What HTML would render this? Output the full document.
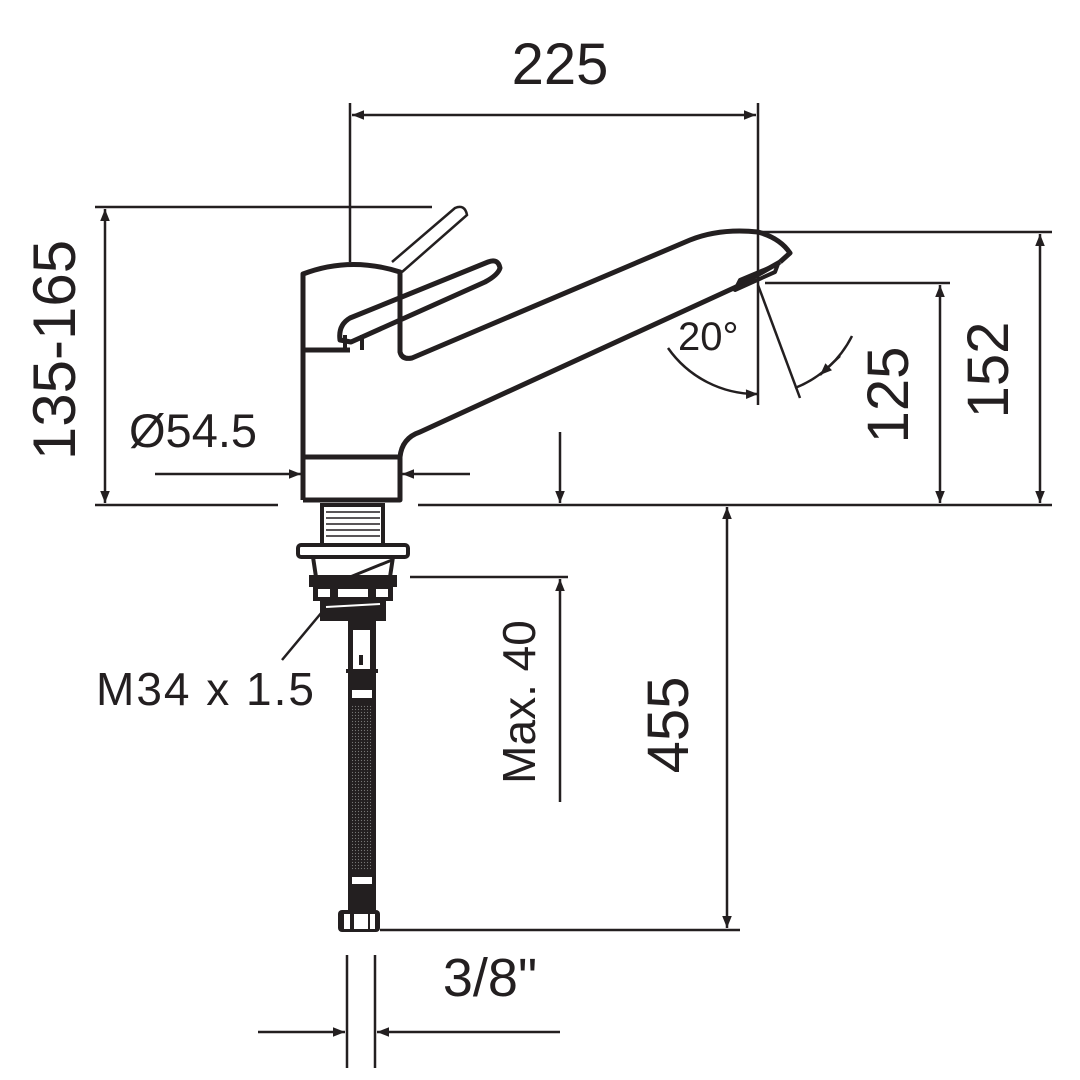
<!DOCTYPE html>
<html><head><meta charset="utf-8"><style>
html,body{margin:0;padding:0;background:#fff}
svg{display:block}
text{font-family:"Liberation Sans",sans-serif;fill:#231f20}
</style></head><body>
<svg width="1080" height="1080" viewBox="0 0 1080 1080" xmlns="http://www.w3.org/2000/svg">
<defs>
<marker id="a" viewBox="0 0 10 10" refX="10" refY="5" markerWidth="34" markerHeight="12" markerUnits="userSpaceOnUse" orient="auto-start-reverse"><path d="M0,1 L10,5 L0,9 Z" fill="#231f20"/></marker>
<pattern id="knit" width="3" height="3" patternUnits="userSpaceOnUse"><rect width="3" height="3" fill="#231f20"/><circle cx="1.5" cy="1.5" r="0.6" fill="#777"/></pattern>
</defs>
<g stroke="#231f20" fill="none" stroke-width="2.5">
<line x1="350" y1="103" x2="350" y2="262"/>
<line x1="758" y1="103" x2="758" y2="405"/>
<line x1="352" y1="115" x2="756" y2="115" marker-start="url(#a)" marker-end="url(#a)"/>
<line x1="95" y1="207" x2="432" y2="207"/>
<line x1="105" y1="209" x2="105" y2="503" marker-start="url(#a)" marker-end="url(#a)"/>
<line x1="95" y1="505" x2="278" y2="505"/>
<line x1="418" y1="505" x2="1052" y2="505"/>
<line x1="155" y1="474" x2="301" y2="474" marker-end="url(#a)"/>
<line x1="470" y1="474" x2="402" y2="474" marker-end="url(#a)"/>
<line x1="760" y1="232" x2="1052" y2="232"/>
<line x1="765" y1="283" x2="950" y2="283"/>
<line x1="1040" y1="234" x2="1040" y2="503" marker-start="url(#a)" marker-end="url(#a)"/>
<line x1="940" y1="285" x2="940" y2="503" marker-start="url(#a)" marker-end="url(#a)"/>
<line x1="410" y1="577" x2="568" y2="577"/>
<line x1="560" y1="432" x2="560" y2="503" marker-end="url(#a)"/>
<line x1="560" y1="802" x2="560" y2="579" marker-end="url(#a)"/>
<line x1="380" y1="930" x2="740" y2="930"/>
<line x1="727" y1="507" x2="727" y2="928" marker-start="url(#a)" marker-end="url(#a)"/>
<line x1="347" y1="955" x2="347" y2="1068"/>
<line x1="375" y1="955" x2="375" y2="1068"/>
<line x1="258" y1="1032" x2="345" y2="1032" marker-end="url(#a)"/>
<line x1="560" y1="1032" x2="377" y2="1032" marker-end="url(#a)"/>
<line x1="758" y1="285" x2="800" y2="398"/>
<path d="M668,348 A108,108 0 0 0 758,394" marker-end="url(#a)"/>
<path d="M852,336 A108,108 0 0 1 795,388" />
<line x1="840" y1="356" x2="820" y2="375" marker-end="url(#a)"/>
<line x1="282" y1="660" x2="322" y2="612"/>
</g>
<g stroke="#231f20" fill="none" stroke-width="5" stroke-linejoin="round">
<path d="M303,500 L303,274 Q350,256 400,272 L400,350"/>
<line x1="303" y1="350" x2="350" y2="350"/>
<line x1="303" y1="457" x2="400" y2="457"/>
<path d="M303,500 L400,500 L400,457 Q402,438 420,432 L736,287"/>
<path d="M400,350 L400,352 Q402,360 412,358 L690,240 Q720,228 758,232 Q780,238 790,253 L780,262"/>
<path d="M780,262 L736,287"/>
<path d="M351,342 L485,282 Q498,275 500,268 Q498,258 488,262 L350,318 Q338,325 340,340 Z"/>
<line x1="345" y1="335" x2="345" y2="350" stroke-width="4"/>
<line x1="362" y1="335" x2="362" y2="350" stroke-width="4"/>
<path d="M735,290 L775,272 L778,264 L740,280 Z" stroke-width="4"/>
</g>
<g stroke="#231f20" fill="none" stroke-width="2.5">
<path d="M392,262 L455,208 Q465,204 467,215 L402,272"/>
</g>
<g stroke="#231f20" stroke-width="4" fill="none">
<rect x="322" y="505" width="61" height="40" fill="#fff"/>
<path d="M326,512 H380 M326,518 H380 M326,524 H380 M326,530 H380 M326,536 H380" stroke-width="1.5"/>
<rect x="298" y="545" width="110" height="12" rx="3"/>
<path d="M313,557 L316,577 L390,577 L393,557"/>
<line x1="350" y1="577" x2="392" y2="560" stroke-width="3"/>
</g>
<rect x="309" y="575" width="88" height="12" fill="#231f20"/>
<rect x="313" y="587" width="80" height="14" fill="#231f20"/>
<rect x="318" y="589" width="12" height="8" fill="#fff"/>
<rect x="338" y="589" width="30" height="8" fill="#fff"/>
<rect x="376" y="589" width="12" height="8" fill="#fff"/>
<rect x="320" y="601" width="66" height="20" fill="#231f20"/>
<line x1="326" y1="607" x2="380" y2="604" stroke="#fff" stroke-width="2"/>
<rect x="348" y="620" width="28" height="295" fill="#231f20"/>
<rect x="353" y="630" width="17" height="40" fill="#fff"/>
<rect x="359" y="655" width="4" height="10" fill="#231f20"/>
<rect x="346" y="669" width="32" height="4" fill="#231f20"/>
<rect x="359" y="677" width="4" height="10" fill="#231f20"/>
<rect x="352" y="690" width="20" height="8" fill="#fff"/>
<rect x="352" y="705" width="20" height="165" fill="url(#knit)"/>
<rect x="352" y="877" width="20" height="7" fill="#fff"/>
<rect x="359" y="888" width="4" height="10" fill="#231f20"/>
<rect x="338" y="910" width="42" height="22" rx="4" fill="#231f20"/>
<rect x="344" y="914" width="6" height="15" fill="#fff"/>
<rect x="354" y="914" width="14" height="15" fill="#fff"/>
<rect x="370" y="914" width="5" height="15" fill="#fff"/>
<text x="560" y="84" font-size="58" text-anchor="middle">225</text>
<text transform="translate(75,350) rotate(-90)" font-size="60" text-anchor="middle">135-165</text>
<text x="129" y="447" font-size="47">Ø54.5</text>
<text x="678" y="350" font-size="40">20°</text>
<text transform="translate(908,395) rotate(-90)" font-size="58" text-anchor="middle">125</text>
<text transform="translate(1008,370) rotate(-90)" font-size="58" text-anchor="middle">152</text>
<text transform="translate(535,702) rotate(-90)" font-size="46" text-anchor="middle">Max. 40</text>
<text transform="translate(688,725) rotate(-90)" font-size="58" text-anchor="middle">455</text>
<text x="96" y="705" font-size="46" letter-spacing="2">M34 x 1.5</text>
<text x="490" y="996" font-size="54" text-anchor="middle">3/8"</text>
</svg>
</body></html>
